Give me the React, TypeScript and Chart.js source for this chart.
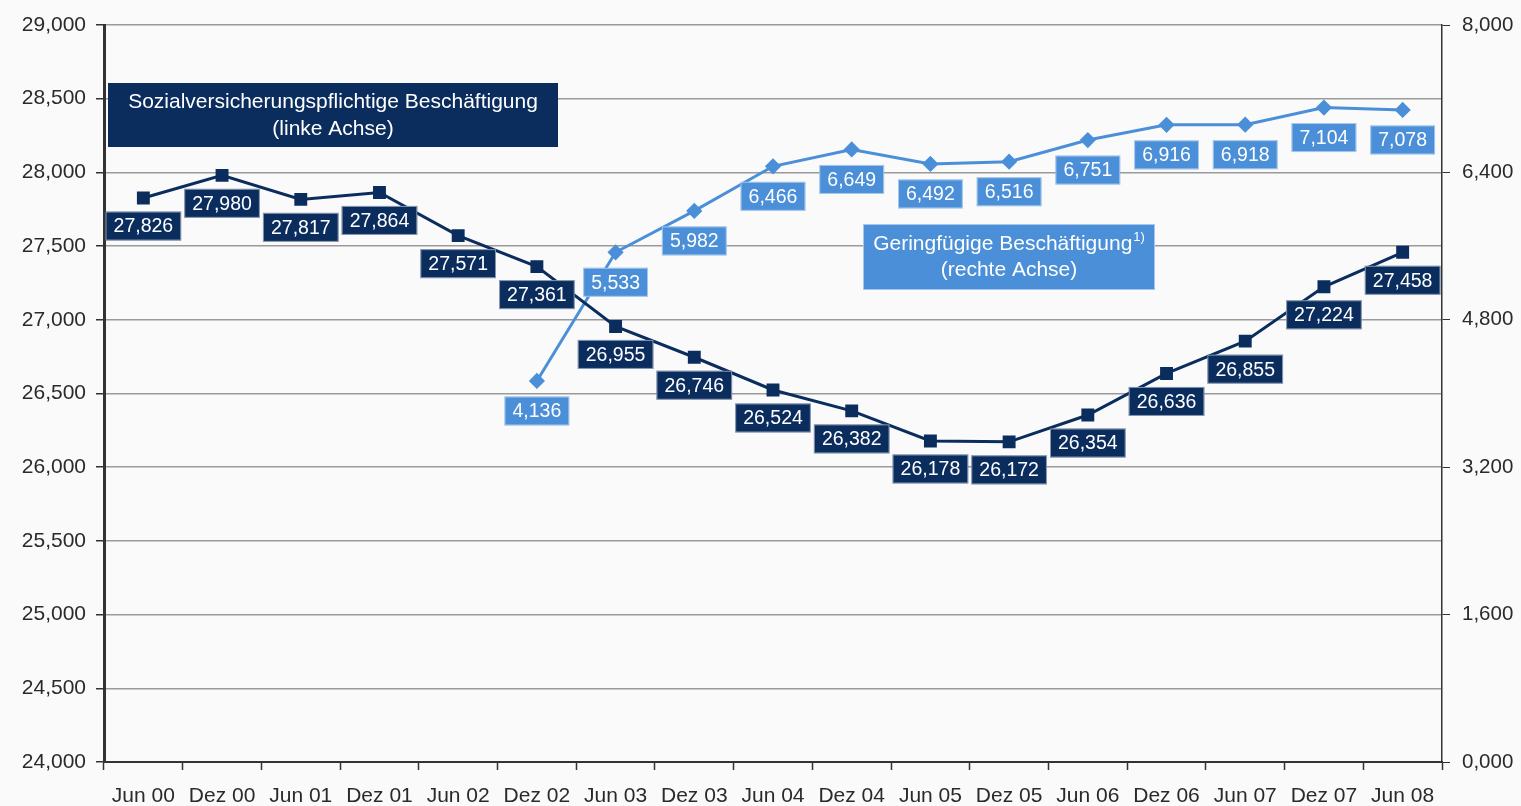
import React, { useEffect, useRef } from "react";
import { Chart, registerables } from "chart.js";

Chart.register(...registerables);

const categories = [
  "Jun 00", "Dez 00", "Jun 01", "Dez 01", "Jun 02", "Dez 02", "Jun 03", "Dez 03",
  "Jun 04", "Dez 04", "Jun 05", "Dez 05", "Jun 06", "Dez 06", "Jun 07", "Dez 07", "Jun 08",
];

const sozialValues = [
  27826, 27980, 27817, 27864, 27571, 27361, 26955, 26746,
  26524, 26382, 26178, 26172, 26354, 26636, 26855, 27224, 27458,
];

const geringValues: (number | null)[] = [
  null, null, null, null, null, 4136, 5533, 5982,
  6466, 6649, 6492, 6516, 6751, 6916, 6918, 7104, 7078,
];

const leftTicks = { min: 24000, max: 29000, step: 500 };
const rightTicks = { min: 0, max: 8000, step: 1600 };

const DARK = "#0b2d5e";
const LIGHT = "#4a8fd8";
const FONT = "'Liberation Sans', Arial, sans-serif";

const fmtThousands = (v: number) => {
  const t = Math.floor(v / 1000);
  const r = Math.round(v % 1000);
  return `${t},${String(r).padStart(3, "0")}`;
};

const labelPlugin = {
  id: "valueLabels",
  afterDatasetsDraw(chart: any) {
    const ctx = chart.ctx;
    ctx.save();
    ctx.font = `19.5px ${FONT}`;
    ctx.textAlign = "center";
    ctx.textBaseline = "middle";
    chart.data.datasets.forEach((ds: any, i: number) => {
      const meta = chart.getDatasetMeta(i);
      const fill = i === 0 ? DARK : LIGHT;
      const dy = i === 0 ? 28 : 30;
      meta.data.forEach((pt: any, j: number) => {
        const v = ds.data[j];
        if (v === null || v === undefined) return;
        const text = fmtThousands(v);
        const w = ctx.measureText(text).width + 16;
        const h = 29;
        const cx = pt.x;
        const cy = pt.y + dy;
        ctx.fillStyle = fill;
        ctx.fillRect(cx - w / 2, cy - h / 2, w, h);
        ctx.strokeStyle = "rgba(255,255,255,0.5)";
        ctx.lineWidth = 1;
        ctx.strokeRect(cx - w / 2 + 0.5, cy - h / 2 + 0.5, w - 1, h - 1);
        ctx.fillStyle = "#ffffff";
        ctx.fillText(text, cx, cy + 1);
      });
    });
    ctx.restore();
  },
};

const legendPlugin = {
  id: "boxLegends",
  afterDraw(chart: any) {
    const ctx = chart.ctx;
    const area = chart.chartArea;
    ctx.save();
    const F = `21px ${FONT}`;
    ctx.font = F;
    ctx.textAlign = "center";
    ctx.textBaseline = "middle";

    // dark legend box
    {
      const x = area.left + 4, y = area.top + 58, w = 450, h = 64;
      ctx.fillStyle = DARK;
      ctx.fillRect(x, y, w, h);
      ctx.fillStyle = "#ffffff";
      ctx.fillText("Sozialversicherungspflichtige Beschäftigung", x + w / 2, y + 19);
      ctx.fillText("(linke Achse)", x + w / 2, y + 46);
    }
    // light legend box
    {
      const x = area.left + 759, y = area.top + 199, w = 292, h = 66;
      ctx.fillStyle = LIGHT;
      ctx.fillRect(x, y, w, h);
      ctx.strokeStyle = "rgba(255,255,255,0.5)";
      ctx.lineWidth = 1;
      ctx.strokeRect(x + 0.5, y + 0.5, w - 1, h - 1);
      ctx.fillStyle = "#ffffff";
      const main = "Geringfügige Beschäftigung";
      ctx.font = F;
      const mw = ctx.measureText(main).width;
      ctx.font = `13px ${FONT}`;
      const sw = ctx.measureText("1)").width;
      const startX = x + w / 2 - (mw + sw + 1) / 2;
      ctx.textAlign = "left";
      ctx.font = F;
      ctx.fillText(main, startX, y + 20);
      ctx.font = `13px ${FONT}`;
      ctx.fillText("1)", startX + mw + 1, y + 13);
      ctx.textAlign = "center";
      ctx.font = F;
      ctx.fillText("(rechte Achse)", x + w / 2, y + 46);
    }
    ctx.restore();
  },
};

const bgPlugin = {
  id: "bg",
  beforeDraw(chart: any) {
    const ctx = chart.ctx;
    ctx.save();
    ctx.fillStyle = "#fafafa";
    ctx.fillRect(0, 0, chart.width, chart.height);
    ctx.restore();
  },
};

export default function App() {
  const ref = useRef<HTMLCanvasElement | null>(null);

  useEffect(() => {
    if (!ref.current) return;
    const chart = new Chart(ref.current, {
      type: "line",
      data: {
        labels: categories,
        datasets: [
          {
            label: "Sozialversicherungspflichtige Beschäftigung (linke Achse)",
            data: sozialValues,
            yAxisID: "yLeft",
            borderColor: DARK,
            backgroundColor: DARK,
            borderWidth: 3,
            pointStyle: "rect",
            pointRadius: 7,
            pointHoverRadius: 7,
            tension: 0,
          },
          {
            label: "Geringfügige Beschäftigung (rechte Achse)",
            data: geringValues,
            yAxisID: "yRight",
            borderColor: LIGHT,
            backgroundColor: LIGHT,
            borderWidth: 3,
            pointStyle: "rectRot",
            pointRadius: 6,
            pointHoverRadius: 6,
            tension: 0,
            spanGaps: false,
          },
        ],
      },
      options: {
        animation: false,
        responsive: true,
        maintainAspectRatio: false,
        layout: { padding: { top: 25, left: 0, right: 0, bottom: 0 } },
        plugins: {
          legend: { display: false },
          tooltip: { enabled: false },
        },
        scales: {
          x: {
            type: "category",
            offset: true,
            grid: {
              offset: true,
              drawOnChartArea: false,
              drawTicks: true,
              tickLength: 8,
              tickColor: "#333",
              tickWidth: 1.5,
            },
            border: { color: "#333", width: 2 },
            ticks: {
              color: "#2a2a2a",
              font: { family: FONT, size: 21 },
              padding: 14,
              maxRotation: 0,
              autoSkip: false,
            },
            afterFit: (scale: any) => {
              scale.height = 44;
            },
          },
          yLeft: {
            type: "linear",
            position: "left",
            min: leftTicks.min,
            max: leftTicks.max,
            ticks: {
              stepSize: leftTicks.step,
              color: "#2a2a2a",
              font: { family: FONT, size: 21 },
              padding: 10,
              callback: (v: any) => fmtThousands(Number(v)),
            },
            grid: {
              color: "#9a9a9a",
              lineWidth: 1.5,
              tickLength: 8,
              tickColor: "#333",
            },
            border: { color: "#333", width: 3 },
            afterFit: (scale: any) => {
              scale.width = 104;
            },
          },
          yRight: {
            type: "linear",
            position: "right",
            min: rightTicks.min,
            max: rightTicks.max,
            ticks: {
              stepSize: rightTicks.step,
              color: "#2a2a2a",
              font: { family: FONT, size: 20.5 },
              padding: 12,
              callback: (v: any) => fmtThousands(Number(v)),
            },
            grid: {
              drawOnChartArea: false,
              tickLength: 8,
              tickColor: "#333",
            },
            border: { color: "#333", width: 1.5 },
            afterFit: (scale: any) => {
              scale.width = 79;
            },
          },
        },
      },
      plugins: [bgPlugin, labelPlugin, legendPlugin],
    });
    return () => chart.destroy();
  }, []);

  return (
    <div style={{ position: "fixed", left: 0, top: 0, width: 1521, height: 806, background: "#fafafa" }}>
      <canvas ref={ref} />
    </div>
  );
}
